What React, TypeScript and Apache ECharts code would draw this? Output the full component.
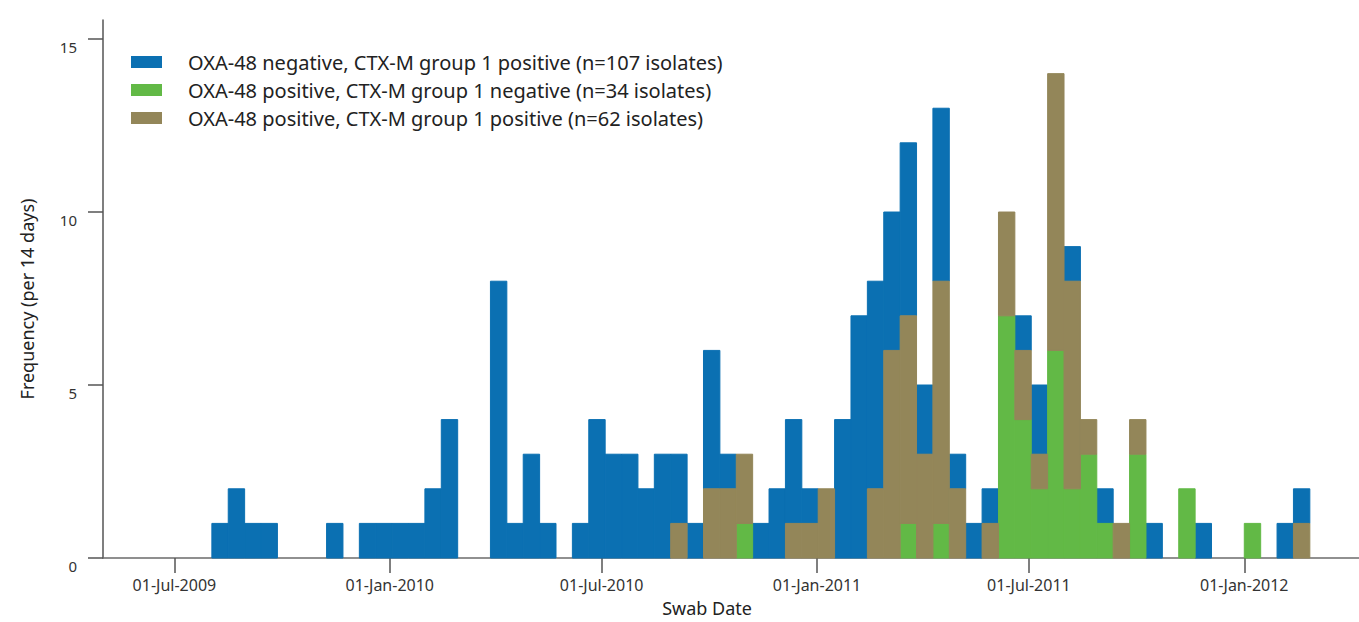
import React, { useEffect, useRef } from 'react';
import * as echarts from 'echarts';

const DAY = 86400000;
const FIRST_BIN_START = Date.UTC(2009, 7, 2);
const BIN_DAYS = 14;
const X_MIN = Date.UTC(2009, 4, 1);
const X_MAX = Date.UTC(2012, 3, 8);

// counts per 14-day bin (bin 0 starts 02-Aug-2009)
const blueCounts = [
  1, 2, 1, 1, 0, 0, 0, 1, 0, 1,
  1, 1, 1, 2, 4, 0, 0, 8, 1, 3,
  1, 0, 1, 4, 3, 3, 2, 3, 2, 1,
  4, 1, 0, 1, 2, 3, 1, 0, 4, 7,
  6, 4, 5, 2, 5, 1, 1, 1, 0, 1,
  2, 0, 1, 0, 1, 0, 0, 1, 0, 0,
  1, 0, 0, 0, 0, 1, 1,
];
const greenCounts = [
  0, 0, 0, 0, 0, 0, 0, 0, 0, 0,
  0, 0, 0, 0, 0, 0, 0, 0, 0, 0,
  0, 0, 0, 0, 0, 0, 0, 0, 0, 0,
  0, 0, 1, 0, 0, 0, 0, 0, 0, 0,
  0, 0, 1, 0, 1, 0, 0, 0, 7, 4,
  2, 6, 2, 3, 1, 0, 3, 0, 0, 2,
  0, 0, 0, 1, 0, 0, 0,
];
const brownCounts = [
  0, 0, 0, 0, 0, 0, 0, 0, 0, 0,
  0, 0, 0, 0, 0, 0, 0, 0, 0, 0,
  0, 0, 0, 0, 0, 0, 0, 0, 1, 0,
  2, 2, 2, 0, 0, 1, 1, 2, 0, 0,
  2, 6, 6, 3, 7, 2, 0, 1, 3, 2,
  1, 8, 6, 1, 0, 1, 1, 0, 0, 0,
  0, 0, 0, 0, 0, 0, 1,
];

const seriesNames = [
  'OXA-48 negative, CTX-M group 1 positive (n=107 isolates)',
  'OXA-48 positive, CTX-M group 1 negative (n=34 isolates)',
  'OXA-48 positive, CTX-M group 1 positive (n=62 isolates)',
];
const seriesColors = ['#0b70b2', '#62b946', '#938659'];

const xTickDates = [
  Date.UTC(2009, 6, 1),
  Date.UTC(2010, 0, 1),
  Date.UTC(2010, 6, 1),
  Date.UTC(2011, 0, 1),
  Date.UTC(2011, 6, 1),
  Date.UTC(2012, 0, 1),
];
const yTicks = [0, 5, 10, 15];
const MONTHS = ['Jan', 'Feb', 'Mar', 'Apr', 'May', 'Jun', 'Jul', 'Aug', 'Sep', 'Oct', 'Nov', 'Dec'];

const FONT = 'Noto Sans';

function fmtDate(v: number) {
  const d = new Date(v);
  const dd = String(d.getUTCDate()).padStart(2, '0');
  return `${dd}-${MONTHS[d.getUTCMonth()]}-${d.getUTCFullYear()}`;
}

// build stacked rect data: [start, end, base, top]
function buildRects(counts: number[], below: number[][]) {
  const out: number[][] = [];
  counts.forEach((c, i) => {
    if (!c) return;
    const base = below.reduce((s, arr) => s + arr[i], 0);
    const start = FIRST_BIN_START + i * BIN_DAYS * DAY;
    out.push([start, start + BIN_DAYS * DAY, base, base + c]);
  });
  return out;
}

const renderItem = (params: any, api: any) => {
  const p0 = api.coord([api.value(0), api.value(2)]);
  const p1 = api.coord([api.value(1), api.value(3)]);
  const color = api.visual('color');
  return {
    type: 'rect',
    shape: { x: p0[0], y: p1[1], width: p1[0] - p0[0], height: p0[1] - p1[1] },
    style: { fill: color, stroke: color, lineWidth: 1 },
  };
};

export default function App() {
  const ref = useRef<HTMLDivElement>(null);
  useEffect(() => {
    if (!ref.current) return;
    const chart = echarts.init(ref.current, null, { renderer: 'svg' });
    const greenData = buildRects(greenCounts, []);
    const brownData = buildRects(brownCounts, [greenCounts]);
    const blueData = buildRects(blueCounts, [greenCounts, brownCounts]);
    const mk = (idx: number, data: number[][]) => ({
      type: 'custom',
      name: seriesNames[idx],
      renderItem,
      itemStyle: { color: seriesColors[idx] },
      encode: { x: [0, 1], y: [2, 3] },
      data,
    });
    chart.setOption({
      animation: false,
      backgroundColor: '#ffffff',
      grid: { left: 103, right: 0, top: 20, bottom: 64 },
      legend: {
        data: seriesNames,
        orient: 'vertical',
        left: 126,
        top: 47,
        icon: 'rect',
        itemWidth: 31,
        itemHeight: 12,
        itemGap: 8,
        textStyle: { fontFamily: FONT, fontSize: 20, color: '#222', padding: [0, 0, 0, 21] },
      },
      xAxis: {
        type: 'value',
        min: X_MIN,
        max: X_MAX,
        splitLine: { show: false },
        axisLine: { show: true, lineStyle: { color: '#6b6b6b', width: 1.5 } },
        axisTick: { show: true, length: 15, customValues: xTickDates, lineStyle: { color: '#555', width: 1.5 } },
        axisLabel: {
          customValues: xTickDates,
          formatter: (v: number) => fmtDate(v),
          fontFamily: FONT,
          fontSize: 16,
          color: '#333',
          margin: 19,
        },
      },
      yAxis: {
        type: 'value',
        min: 0,
        max: 15.55,
        splitLine: { show: false },
        axisLine: { show: true, lineStyle: { color: '#555', width: 1.5 } },
        axisTick: { show: true, length: 15, customValues: yTicks, lineStyle: { color: '#555', width: 1.5 } },
        axisLabel: {
          customValues: yTicks,
          fontFamily: FONT,
          fontSize: 15,
          color: '#333',
          margin: 26,
          verticalAlign: 'top',
        },
      },
      graphic: [
        {
          type: 'text',
          x: 707,
          y: 608,
          style: {
            text: 'Swab Date',
            fontFamily: FONT,
            fontSize: 18,
            fill: '#222',
            textAlign: 'center',
            textVerticalAlign: 'middle',
          },
        },
        {
          type: 'text',
          x: 27,
          y: 299,
          rotation: Math.PI / 2,
          style: {
            text: 'Frequency (per 14 days)',
            fontFamily: FONT,
            fontSize: 18,
            fill: '#222',
            textAlign: 'center',
            textVerticalAlign: 'middle',
          },
        },
      ],
      series: [mk(0, blueData), mk(1, greenData), mk(2, brownData)],
    });
    return () => chart.dispose();
  }, []);
  return (
    <div
      ref={ref}
      style={{ position: 'fixed', left: 0, top: 0, width: 1359, height: 622, background: '#fff' }}
    />
  );
}
